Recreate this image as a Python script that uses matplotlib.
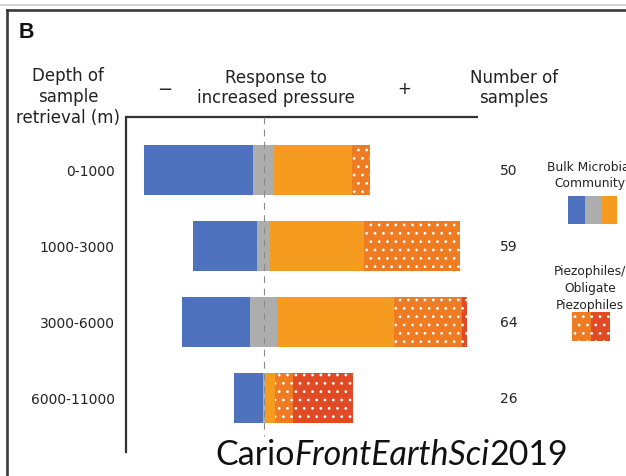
import matplotlib
matplotlib.use("Agg")
import matplotlib.pyplot as plt
from matplotlib.patches import Rectangle
from matplotlib.lines import Line2D
import numpy as np

plt.rcParams["hatch.linewidth"] = 0.8

# ---------------- data ----------------
depths = ["0-1000", "1000-3000", "3000-6000", "6000-11000"]
n_samples = ["50", "59", "64", "26"]
negative = [54.5, 32.0, 34.0, 14.5]      # blue (negative response)
neutral = [10.5, 6.5, 13.5, 1.0]         # gray (no response), centred on 0
positive = [39.0, 47.0, 58.5, 5.0]       # orange (positive response)
piezophiles = [9.0, 48.0, 34.0, 9.0]     # dotted orange
obligate = [0.0, 0.0, 2.5, 30.0]         # dotted red

C_BLUE = "#4E72BD"
C_GRAY = "#ADADAD"
C_ORANGE = "#F59B20"
C_PIEZO = "#EF7B22"
C_OBL = "#E04B26"

W, H = 626, 477
fig = plt.figure(figsize=(W / 100, H / 100), dpi=100)
fig.patch.set_facecolor("white")


def fx(px):
    return px / W


def fy(py):
    return 1 - py / H


# frame of the screenshot
fig.add_artist(Line2D([0, 1], [fy(5.5), fy(5.5)], color="#c9c9c9", lw=1.2))
fig.add_artist(Line2D([fx(7.3), fx(7.3)], [fy(11), 0], color="#3a3a3a", lw=1.9))
fig.add_artist(Line2D([fx(7.3), 1], [fy(11), fy(11)], color="#3a3a3a", lw=1.9))
fig.text(fx(19), fy(32), "B", fontsize=15.5, fontweight="bold",
         family="Liberation Sans", ha="left", va="center", color="#111")

# ---------------- main axes ----------------
ax_l, ax_r, ax_t, ax_b = 126, 626, 118, 453
ax = fig.add_axes([fx(ax_l), fy(ax_b), fx(ax_r - ax_l), (ax_b - ax_t) / H])
ax.set_facecolor("none")
px_per_unit = 2.0
zero_px = 263.5
ax.set_xlim((ax_l - zero_px) / px_per_unit, (ax_r - zero_px) / px_per_unit)
row_px = 75.9
first_px = 171
ax.set_ylim((ax_b - first_px) / row_px, (ax_t - first_px) / row_px)

y = np.arange(len(depths))
neg = np.array(negative)
neu = np.array(neutral)
pos = np.array(positive)
pz = np.array(piezophiles)
ob = np.array(obligate)
h = 0.66

ax.barh(y, neg, left=-neu / 2 - neg, height=h, color=C_BLUE, lw=0)
ax.barh(y, neu, left=-neu / 2, height=h, color=C_GRAY, lw=0)
ax.barh(y, pos, left=neu / 2, height=h, color=C_ORANGE, lw=0)
ax.barh(y, pz, left=neu / 2 + pos, height=h, color=C_PIEZO,
        edgecolor="white", lw=0, hatch="..")
ax.barh(y, ob, left=neu / 2 + pos + pz, height=h, color=C_OBL,
        edgecolor="white", lw=0, hatch="..")

# dashed zero line
ax.plot([0, 0], [ax.get_ylim()[1], (437 - first_px) / row_px], color="#8a8a8a",
        lw=0.8, dashes=(6, 5), clip_on=False, zorder=3)

for s in ["right", "bottom", "top"]:
    ax.spines[s].set_visible(False)
ax.spines["left"].set_color("#333")
ax.spines["left"].set_linewidth(1.6)
ax.plot([0, (478 - ax_l) / (ax_r - ax_l)], [1, 1], transform=ax.transAxes,
        color="#333", lw=1.6, clip_on=False, solid_capstyle="butt")
ax.set_xticks([])
ax.set_yticks(y)
ax.set_yticklabels(depths, fontsize=10, color="#222")
ax.tick_params(axis="y", length=0, pad=8)

for yi, n in zip(y, n_samples):
    ax.text((500 - zero_px) / px_per_unit, yi, n, fontsize=10, color="#222",
            ha="left", va="center")

# ---------------- headers ----------------
hdr = dict(fontsize=12, color="#222", ha="center", va="center", linespacing=1.2)
fig.text(fx(68), fy(97), "Depth of\nsample\nretrieval (m)", **hdr)
fig.text(fx(276), fy(88), "Response to\nincreased pressure", **hdr)
fig.text(fx(514), fy(88), "Number of\nsamples", **hdr)
fig.text(fx(165), fy(90), "\u2212", fontsize=13, color="#222", ha="center", va="center")
fig.text(fx(404), fy(89), "+", fontsize=12, color="#222", ha="center", va="center")

# ---------------- legend ----------------
fig.text(fx(590), fy(175.5), "Bulk Microbial\nCommunity", fontsize=8.8, color="#222",
         ha="center", va="center", linespacing=1.25)
fig.text(fx(590), fy(288.5), "Piezophiles/\nObligate\nPiezophiles", fontsize=8.8,
         color="#222", ha="center", va="center", linespacing=1.35)


def swatch(x0, x1, y0, y1, color, hatch=None):
    fig.add_artist(Rectangle((fx(x0), fy(y1)), fx(x1 - x0), (y1 - y0) / H,
                             transform=fig.transFigure, facecolor=color,
                             edgecolor="white" if hatch else "none", lw=0,
                             hatch=hatch))


swatch(568, 585, 197, 225, C_BLUE)
swatch(585, 601, 197, 225, C_GRAY)
swatch(601, 617, 197, 225, C_ORANGE)
swatch(572, 591, 313, 342, C_PIEZO, "..")
swatch(591, 610, 313, 342, C_OBL, "..")

# ---------------- citation ----------------
renderer = fig.canvas.get_renderer()
x_px = 215
base = fy(465)
for part, style in [("Cario", "normal"), ("FrontEarthSci", "italic"), ("2019", "normal")]:
    t = fig.text(fx(x_px), base, part, fontsize=24.5, family="Lato", style=style,
                 color="#111", ha="left", va="baseline")
    bb = t.get_window_extent(renderer)
    x_px = bb.x1

fig.savefig("out.png", dpi=100)
